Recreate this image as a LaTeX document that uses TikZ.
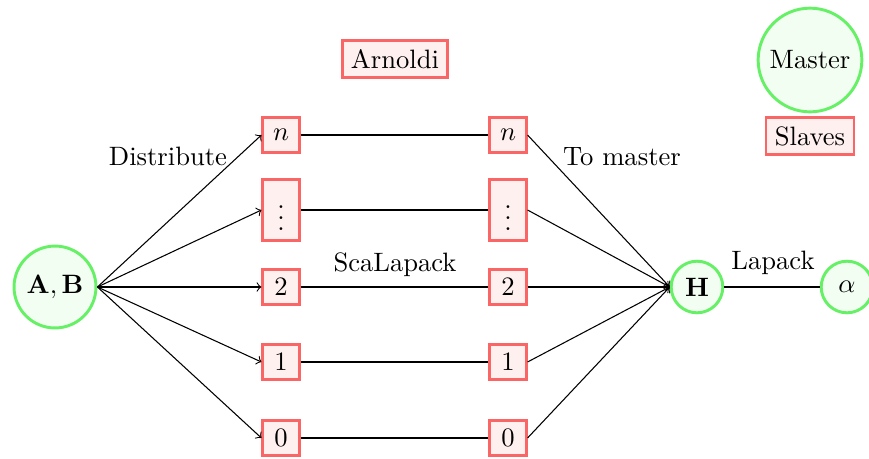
\documentclass[tikz,border=0pt]{standalone}
\usetikzlibrary{arrows}
\definecolor{gstroke}{RGB}{102,240,102}
\definecolor{rstroke}{RGB}{250,102,102}
\begin{document}
\begin{tikzpicture}[x=0.376pt,y=-0.376pt,
  mnode/.style={circle,draw=gstroke,fill=gstroke!8,line width=1.1pt,inner sep=1pt},
  snode/.style={rectangle,draw=rstroke,fill=rstroke!10,line width=1.1pt,minimum width=13.6pt,minimum height=13.2pt,inner sep=2pt},
  conn/.style={->,>=to,line width=0.4pt},
  plain/.style={line width=0.4pt}]
\useasboundingbox (0,0) rectangle (869,458);
\node[mnode,minimum size=30.8pt] (ab) at (55,287) {$\mathbf{A},\mathbf{B}$};
\node[mnode,minimum size=19.4pt] (h) at (697,287) {$\mathbf{H}$};
\node[mnode,minimum size=19.4pt] (al) at (847,287) {$\alpha$};
\node[mnode,minimum size=39pt] (master) at (810,60) {Master};
\node[snode,inner sep=3.33pt] (slaves) at (810,136) {Slaves};
\node[snode,inner sep=3.33pt] (arnoldi) at (395,59) {Arnoldi};
\node[snode] (ln) at (281,135) {$n$};
\node[snode,minimum height=22.6pt] (ld) at (281,210) {$\vdots$};
\node[snode] (l2) at (281,287) {$2$};
\node[snode] (l1) at (281,362) {$1$};
\node[snode] (l0) at (281,438) {$0$};
\node[snode] (rn) at (508,135) {$n$};
\node[snode,minimum height=22.6pt] (rd) at (508,210) {$\vdots$};
\node[snode] (r2) at (508,287) {$2$};
\node[snode] (r1) at (508,362) {$1$};
\node[snode] (r0) at (508,438) {$0$};
\foreach \n in {ln,ld,l2,l1,l0} \draw[conn] (ab.east) -- (\n.west);
\foreach \a/\b in {ln/rn,ld/rd,l2/r2,l1/r1,l0/r0} \draw[plain] (\a) -- (\b);
\foreach \n in {rn,rd,r2,r1,r0} \draw[conn] (\n.east) -- (h.west);
\draw[plain] (h) -- (al);
\node (tdist) at (168,156) {Distribute};
\node (tmast) at (622,157) {To master};
\node (tscal) at (395,265) {ScaLapack};
\node (tlap) at (773,263) {Lapack};
\end{tikzpicture}
\end{document}
